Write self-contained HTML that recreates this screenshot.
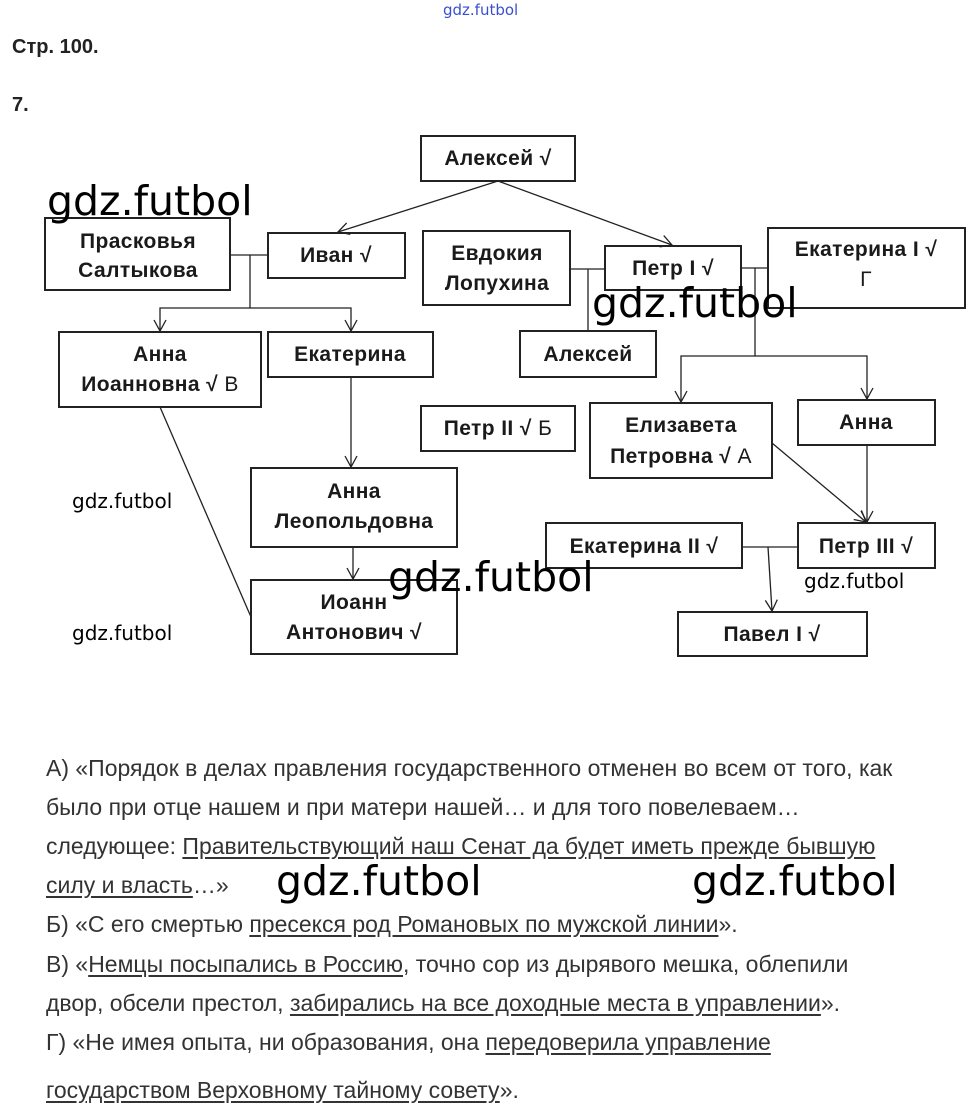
<!DOCTYPE html>
<html><head><meta charset="utf-8"><style>
html,body{margin:0;padding:0;background:#fff;width:966px;height:1120px;overflow:hidden;position:relative}
.t{position:absolute;left:46px;font-family:"Liberation Sans",sans-serif;font-size:23px;color:#333;white-space:nowrap;line-height:26px}
.t u{text-decoration:underline;text-underline-offset:3px}
.w{position:absolute;font-family:"DejaVu Sans","Liberation Sans",sans-serif;color:#000;white-space:nowrap;line-height:1}
</style></head><body>
<svg width="966" height="740" style="position:absolute;left:0;top:0;font-family:'Liberation Sans',sans-serif">
<defs><marker id="a" markerWidth="14" markerHeight="14" refX="12" refY="7" orient="auto-start-reverse" markerUnits="userSpaceOnUse"><path d="M1,1 L12,7 L1,13" fill="none" stroke="#222" stroke-width="1.3"/></marker></defs>
<g font-weight="bold" fill="#222">
<text x="12" y="53" font-size="20">Стр. 100.</text>
<text x="12" y="111" font-size="20">7.</text>
</g>
<g fill="none" stroke="#222" stroke-width="2">
<rect x="421" y="136" width="154" height="45"/>
<rect x="45" y="218" width="185" height="72"/>
<rect x="268" y="233" width="137" height="45"/>
<rect x="423" y="231" width="147" height="74"/>
<rect x="605" y="246" width="136" height="44"/>
<rect x="768" y="228" width="197" height="80"/>
<rect x="520" y="331" width="136" height="46"/>
<rect x="59" y="332" width="202" height="75"/>
<rect x="268" y="332" width="165" height="45"/>
<rect x="421" y="406" width="154" height="45"/>
<rect x="590" y="403" width="182" height="75"/>
<rect x="798" y="400" width="137" height="45"/>
<rect x="251" y="468" width="206" height="79"/>
<rect x="546" y="523" width="196" height="45"/>
<rect x="798" y="523" width="137" height="45"/>
<rect x="251" y="580" width="206" height="74"/>
<rect x="678" y="612" width="189" height="44"/>
</g>
<g fill="none" stroke="#222" stroke-width="1.3">
<line x1="498" y1="181" x2="338" y2="232" marker-end="url(#a)"/>
<line x1="498" y1="181" x2="672" y2="245" marker-end="url(#a)"/>
<polyline points="230,255 268,255"/>
<line x1="250" y1="255" x2="250" y2="308"/>
<polyline points="160,331 160,308 351,308 351,331" marker-start="url(#a)" marker-end="url(#a)"/>
<polyline points="570,269 605,269"/>
<line x1="588" y1="269" x2="588" y2="331"/>
<polyline points="741,268 768,268"/>
<line x1="755" y1="268" x2="755" y2="356"/>
<polyline points="681,402 681,356 867,356 867,399" marker-start="url(#a)" marker-end="url(#a)"/>
<line x1="351" y1="377" x2="351" y2="467" marker-end="url(#a)"/>
<line x1="353" y1="547" x2="353" y2="579" marker-end="url(#a)"/>
<line x1="160" y1="407" x2="251" y2="617"/>
<line x1="772" y1="443" x2="866" y2="522" marker-end="url(#a)"/>
<line x1="867" y1="445" x2="867" y2="522" marker-end="url(#a)"/>
<line x1="742" y1="547" x2="798" y2="547"/>
<line x1="768" y1="547" x2="772" y2="611" marker-end="url(#a)"/>
</g>
<g font-weight="bold" font-size="21" letter-spacing="0.4" text-anchor="middle" fill="#1a1a1a">
<text x="138" y="248">Прасковья</text>
<text x="138" y="277">Салтыкова</text>
<text x="498" y="165">Алексей √</text>
<text x="336" y="262">Иван √</text>
<text x="497" y="260">Евдокия</text>
<text x="497" y="290">Лопухина</text>
<text x="673" y="275">Петр I √</text>
<text x="866" y="256">Екатерина I √</text>
<text x="866" y="286" font-weight="normal">Г</text>
<text x="588" y="361">Алексей</text>
<text x="160" y="361">Анна</text>
<text x="160" y="391">Иоанновна √ <tspan font-weight="normal">В</tspan></text>
<text x="350" y="361">Екатерина</text>
<text x="498" y="435">Петр II √ <tspan font-weight="normal">Б</tspan></text>
<text x="681" y="432">Елизавета</text>
<text x="681" y="463">Петровна √ <tspan font-weight="normal">А</tspan></text>
<text x="866" y="429">Анна</text>
<text x="354" y="498">Анна</text>
<text x="354" y="528">Леопольдовна</text>
<text x="644" y="553">Екатерина II √</text>
<text x="866" y="553">Петр III √</text>
<text x="354" y="609">Иоанн</text>
<text x="354" y="639">Антонович √</text>
<text x="772" y="641">Павел I √</text>
</g>
</svg>
<div class="w" style="left:443px;top:3px;font-size:15px;color:#3a4fd0">gdz.futbol</div>
<div class="w" style="left:47px;top:181px;font-size:41px">gdz.futbol</div>
<div class="w" style="left:592px;top:283px;font-size:41px">gdz.futbol</div>
<div class="w" style="left:388px;top:557px;font-size:41px">gdz.futbol</div>
<div class="w" style="left:276px;top:861px;font-size:41px">gdz.futbol</div>
<div class="w" style="left:692px;top:861px;font-size:41px">gdz.futbol</div>
<div class="w" style="left:72px;top:491px;font-size:20px">gdz.futbol</div>
<div class="w" style="left:72px;top:623px;font-size:20px">gdz.futbol</div>
<div class="w" style="left:804px;top:571px;font-size:20px">gdz.futbol</div>
<div class="t" style="top:755px">А) «Порядок в делах правления государственного отменен во всем от того, как</div>
<div class="t" style="top:794px">было при отце нашем и при матери нашей… и для того повелеваем…</div>
<div class="t" style="top:833px">следующее: <u>Правительствующий наш Сенат да будет иметь прежде бывшую</u></div>
<div class="t" style="top:872px"><u>силу и власть</u>…»</div>
<div class="t" style="top:911px">Б) «С его смертью <u>пресекся род Романовых по мужской линии</u>».</div>
<div class="t" style="top:951px">В) «<u>Немцы посыпались в Россию</u>, точно сор из дырявого мешка, облепили</div>
<div class="t" style="top:990px">двор, обсели престол, <u>забирались на все доходные места в управлении</u>».</div>
<div class="t" style="top:1029px">Г) «Не имея опыта, ни образования, она <u>передоверила управление</u></div>
<div class="t" style="top:1077px"><u>государством Верховному тайному совету</u>».</div>
</body></html>
